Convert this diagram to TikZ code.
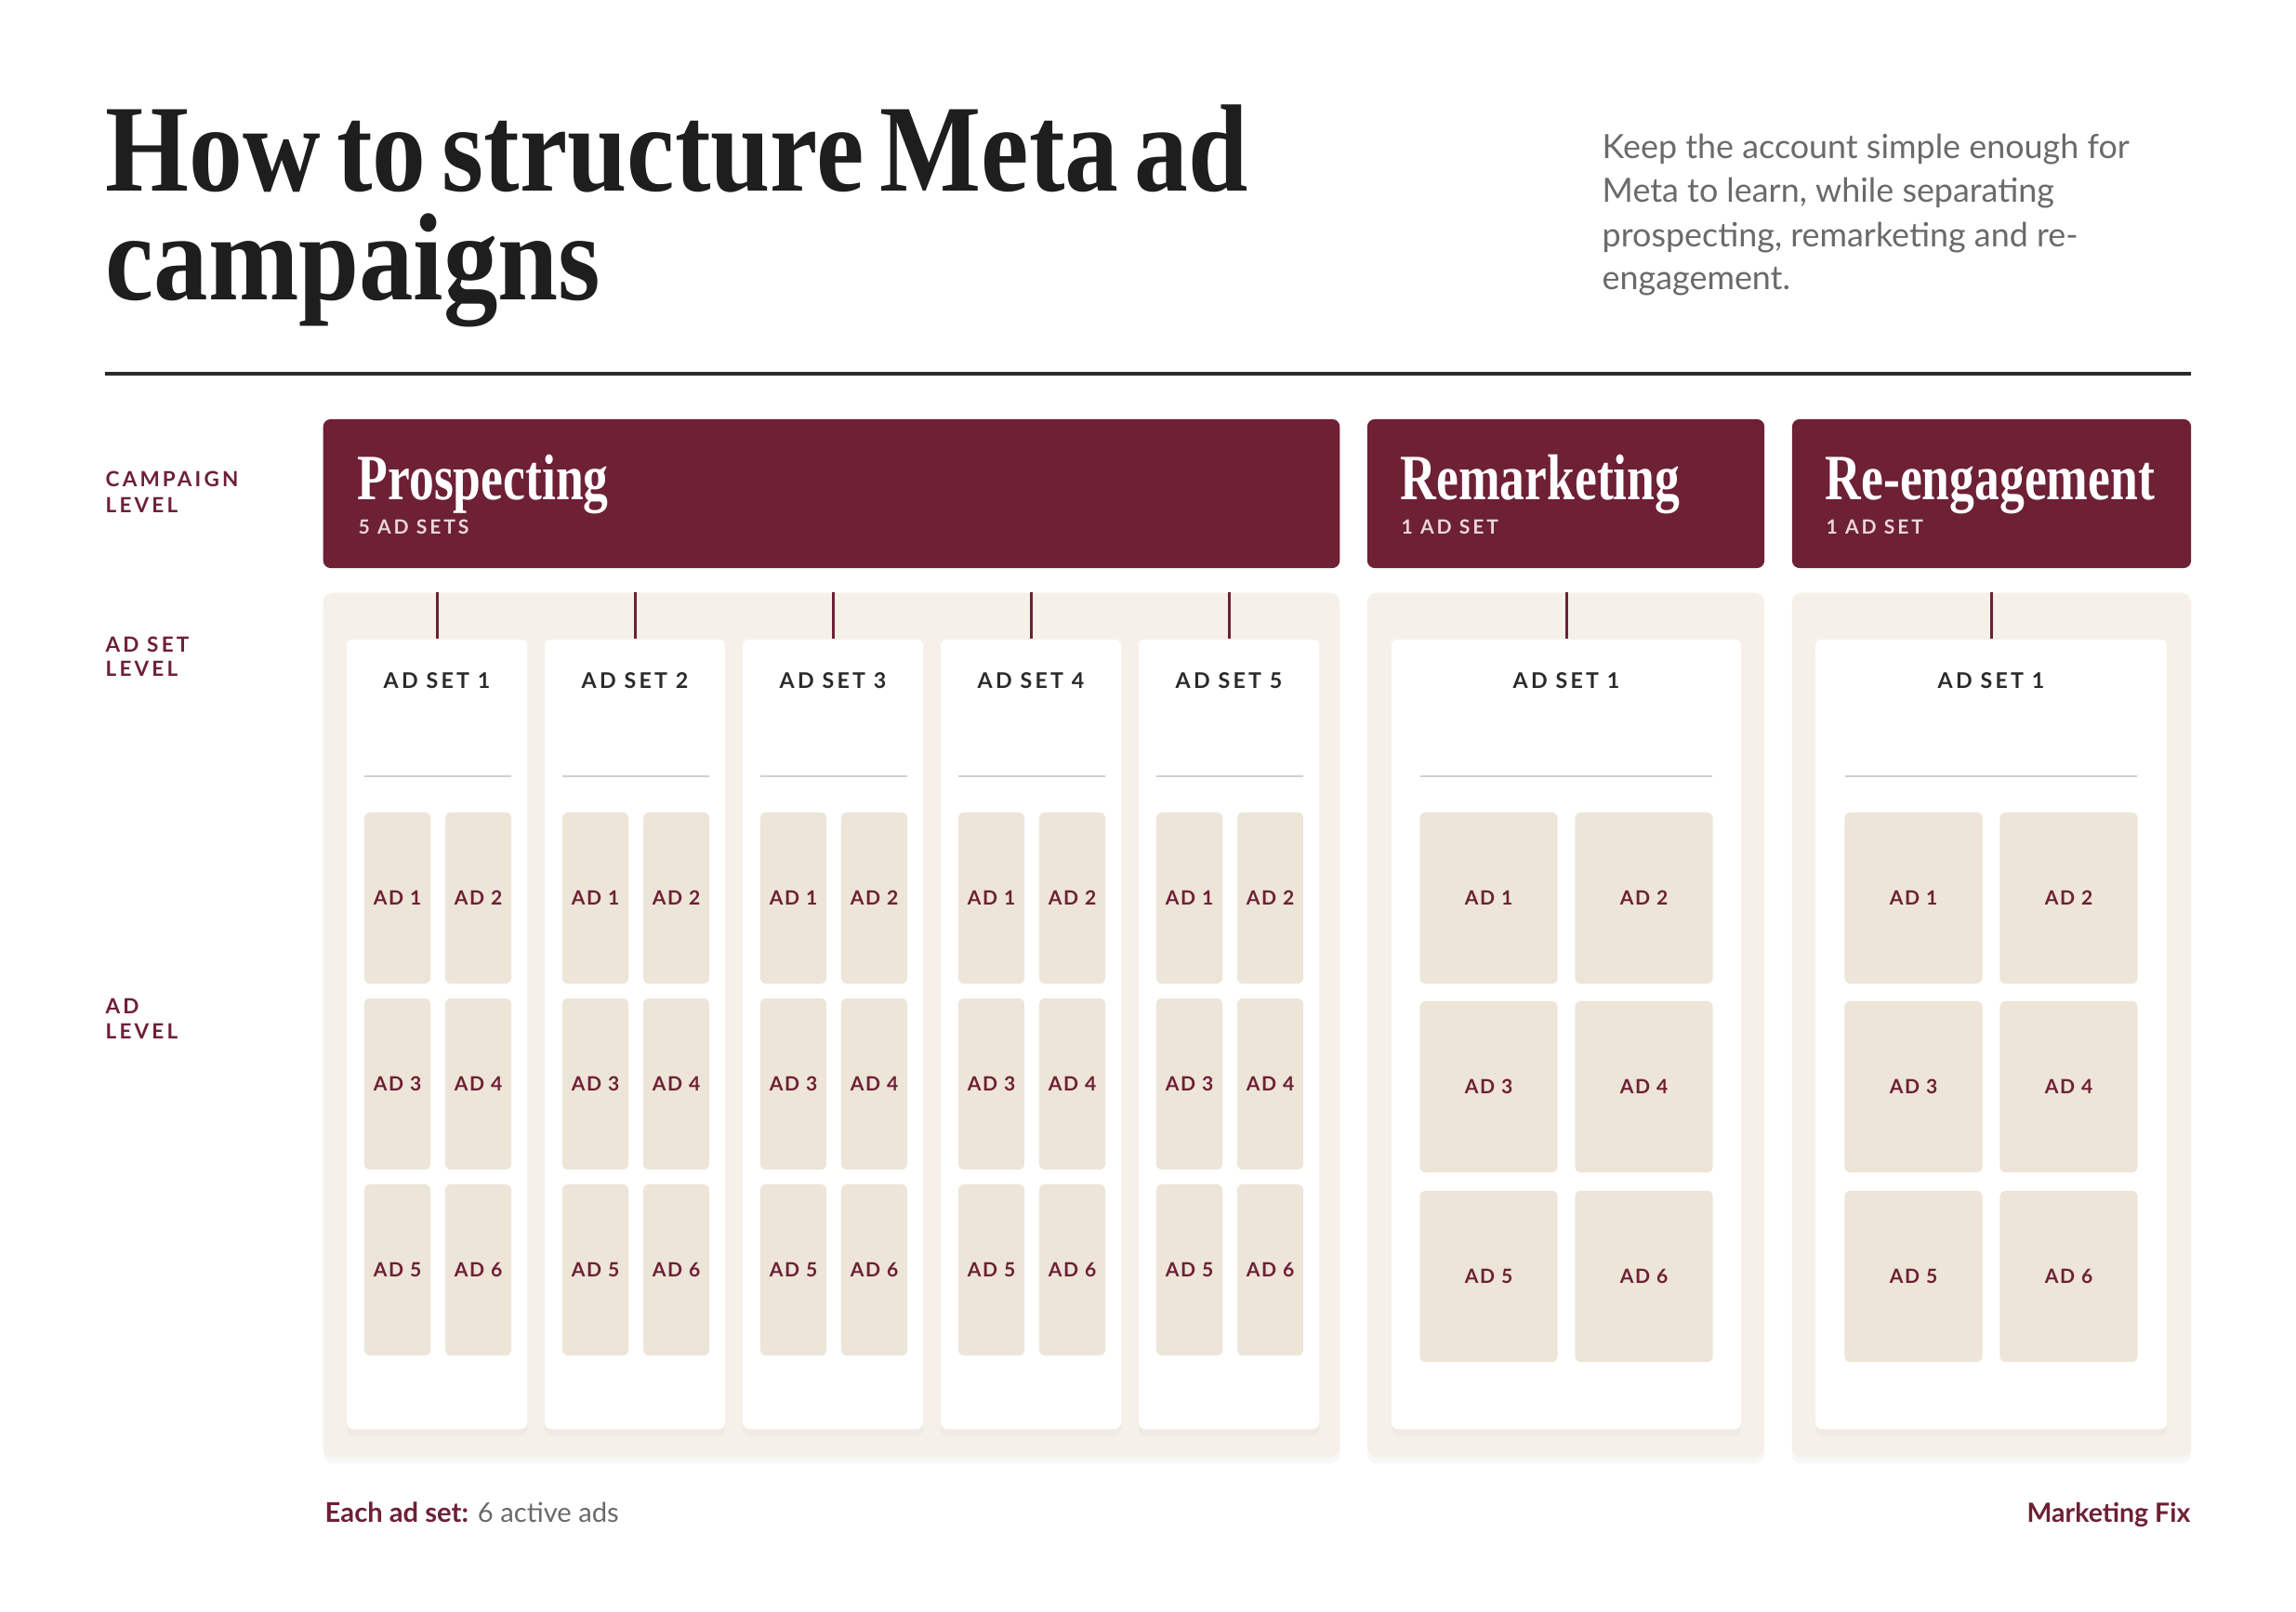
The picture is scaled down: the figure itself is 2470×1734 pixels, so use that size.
\documentclass[tikz,border=0pt]{standalone}
\usepackage{fontspec}
\usetikzlibrary{shadows}
\setmainfont{Lato}
\newfontfamily\dispfont[WordSpace=0.6]{Liberation Serif}
\newfontfamily\capsfont[LetterSpace=14]{Lato}
\newfontfamily\adfont[LetterSpace=8]{Lato}
\newfontfamily\bodyfont{Lato}
\definecolor{wine}{HTML}{6E2035}
\definecolor{titlec}{HTML}{1E1E1E}
\definecolor{subc}{HTML}{6A6A6A}
\definecolor{rulec}{HTML}{2A2A2A}
\definecolor{panelc}{HTML}{F6F1E8}
\definecolor{adc}{HTML}{EDE5D8}
\definecolor{sepc}{HTML}{D4D0CC}
\definecolor{setc}{HTML}{2A2A2A}
\definecolor{pinkc}{HTML}{EAD5DA}
\begin{document}
\begin{tikzpicture}[x=0.01cm,y=-0.01cm,
  camp/.style={fill=wine, rounded corners=0.08cm, inner sep=0pt},
  panel/.style={fill=panelc, rounded corners=0.1cm, inner sep=0pt,
    drop shadow={opacity=0.06, shadow xshift=0pt, shadow yshift=-2pt}},
  card/.style={fill=white, rounded corners=0.07cm, inner sep=0pt,
    drop shadow={opacity=0.05, shadow xshift=0pt, shadow yshift=-2pt}},
  adbox/.style={fill=adc, rounded corners=0.06cm, inner sep=0pt, text=wine,
    font=\fontsize{6}{7}\adfont\bfseries},
  conn/.style={draw=wine, line width=0.85pt},
  sepline/.style={draw=sepc, line width=0.6pt},
  settitle/.style={anchor=base, inner sep=0pt, text=setc, font=\fontsize{6.6}{8}\capsfont\bfseries},
  lvl/.style={anchor=base west, inner sep=0pt, text=wine, font=\fontsize{6.4}{8}\capsfont\bfseries},
  sub/.style={anchor=base west, inner sep=0pt, text=subc, font=\fontsize{10.2}{12}\bodyfont},
  camptitle/.style={anchor=base west, inner sep=0pt, text=white},
  campsub/.style={anchor=base west, inner sep=0pt, text=pinkc, font=\fontsize{6}{7}\capsfont\bfseries},
  ttl/.style={anchor=base west, inner sep=0pt, text=titlec, text height=0.6cm, text depth=0pt}
]
\useasboundingbox (0,0) rectangle (2470,1734);
\fill[white] (0,0) rectangle (2470,1734);

% title
\node[ttl] (t1) at (113,206)
  {\scalebox{0.865}[1]{\fontsize{38}{38}\dispfont\bfseries How to structure Meta ad}};
\node[ttl] (t2) at (113,323)
  {\scalebox{0.875}[1]{\fontsize{38}{38}\dispfont\bfseries campaigns}};

% subtitle
\node[sub] (s1) at (1723,171) {Keep the account simple enough for};
\node[sub] (s2) at (1723,218) {Meta to learn, while separating};
\node[sub] (s3) at (1723,266) {prospecting, remarketing and re-};
\node[sub] (s4) at (1723,312) {engagement.};

% rule
\coordinate (rl) at (113,402);
\coordinate (rr) at (2357,402);
\draw[rulec, line width=0.9pt] (rl) -- (rr);

% level labels
\node[lvl] (l1a) at (113,524) {CAMPAIGN};
\node[lvl] (l1b) at (113,552) {LEVEL};
\node[lvl] (l2a) at (113,702) {AD SET};
\node[lvl] (l2b) at (113,728) {LEVEL};
\node[lvl] (l3a) at (113,1090) {AD};
\node[lvl] (l3b) at (113,1117) {LEVEL};

% campaign boxes
\node[camp, minimum width=10.93cm, minimum height=1.60cm] (cp) at (894.5,531) {};
\node[camptitle] (cpt) at (384,538) {\scalebox{0.77}[1]{\fontsize{19.8}{20}\dispfont\bfseries Prospecting}};
\node[campsub] (cps) at (385,575) {5 AD SETS};

\node[camp, minimum width=4.27cm, minimum height=1.60cm] (cr) at (1684.5,531) {};
\node[camptitle] (crt) at (1506,538) {\scalebox{0.77}[1]{\fontsize{19.8}{20}\dispfont\bfseries Remarketing}};
\node[campsub] (crs) at (1507,575) {1 AD SET};

\node[camp, minimum width=4.29cm, minimum height=1.60cm] (ce) at (2142.5,531) {};
\node[camptitle] (cet) at (1963,538) {\scalebox{0.77}[1]{\fontsize{19.8}{20}\dispfont\bfseries Re-engagement}};
\node[campsub] (ces) at (1964,575) {1 AD SET};

% panels
\node[panel, minimum width=10.93cm, minimum height=9.29cm] (pp) at (894.5,1102.5) {};
\node[panel, minimum width=4.27cm, minimum height=9.29cm] (pr) at (1684.5,1102.5) {};
\node[panel, minimum width=4.29cm, minimum height=9.29cm] (pe) at (2142.5,1102.5) {};

% prospecting ad sets
\foreach \i in {1,...,5}{
  \pgfmathsetmacro{\cx}{470+213*(\i-1)}
  \node[card, minimum width=1.94cm, minimum height=8.49cm] (ps\i) at (\cx,1112.5) {};
  \draw[conn] (ps\i.north) -- (ps\i.north |- pp.north);
  \node[settitle] (ps\i t) at (\cx,740) {AD SET \i};
  \draw[sepline] (\cx-78,835) -- (\cx+80,835);
  \foreach \r/\ry in {0/966,1/1166,2/1366}{
    \foreach \c/\dx in {0/-42.5,1/44.5}{
      \pgfmathtruncatemacro{\n}{2*\r+\c+1}
      \node[adbox, minimum width=0.71cm, minimum height=1.84cm] (ps\i a\n) at (\cx+\dx,\ry) {AD \n};
    }
  }
}

% single ad set cards
\foreach \nm/\pn/\cx/\w in {rm/pr/1685/3.76, re/pe/2142/3.78}{
  \node[card, minimum width=\w cm, minimum height=8.49cm] (\nm) at (\cx,1112.5) {};
  \draw[conn] (\nm.north) -- (\nm.north |- \pn.north);
  \node[settitle] (\nm t) at (\cx,740) {AD SET 1};
  \draw[sepline] (\cx-157,835) -- (\cx+157,835);
  \foreach \r/\ry in {0/966,1/1169,2/1373}{
    \foreach \c/\dx in {0/-83.5,1/83.5}{
      \pgfmathtruncatemacro{\n}{2*\r+\c+1}
      \node[adbox, minimum width=1.48cm, minimum height=1.84cm] (\nm a\n) at (\cx+\dx,\ry) {AD \n};
    }
  }
}

% footer
\node[anchor=base west, inner sep=0pt, font=\fontsize{8.3}{9}\bodyfont] (foot) at (349,1637)
  {\textcolor{wine}{\bfseries Each ad set:} \textcolor{subc}{6 active ads}};
\node[anchor=base east, inner sep=0pt, text=wine, font=\fontsize{8.1}{9}\bodyfont\bfseries] (brand) at (2357,1637)
  {Marketing Fix};
\end{tikzpicture}
\end{document}
